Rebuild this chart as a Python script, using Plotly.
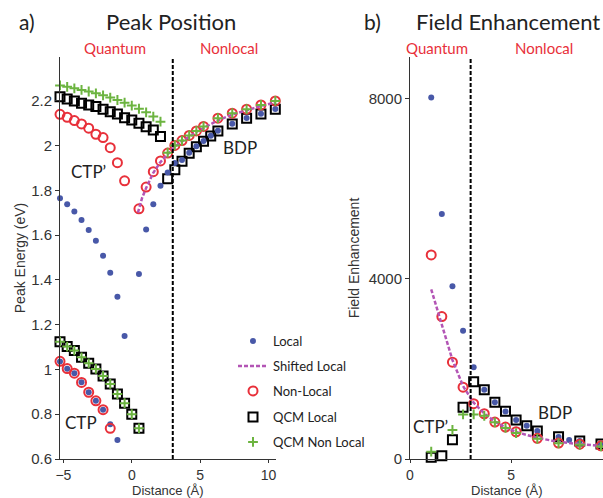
import plotly.graph_objects as go

# ---------------- data: panel a) Peak Position (eV) ----------------
local_ctpp_x = [-5.25, -4.725, -4.2, -3.675, -3.15, -2.625, -2.1, -1.575, -1.05, -0.525]
local_ctpp_y = [1.764, 1.738, 1.705, 1.667, 1.623, 1.575, 1.507, 1.432, 1.325, 1.149]
local_ctp_x = [-5.25, -4.725, -4.2, -3.675, -3.15, -2.625, -2.1, -1.575, -1.05]
local_ctp_y = [1.035, 1.003, 0.983, 0.943, 0.898, 0.860, 0.820, 0.755, 0.685]
local_bdp_x = [0.525, 1.05, 1.575, 2.1, 2.625, 3.15, 3.675, 4.2, 4.725, 5.25, 5.775, 6.3, 7.35, 8.4, 9.45, 10.5]
local_bdp_y = [1.426, 1.625, 1.738, 1.820, 1.879, 1.922, 1.935, 1.968, 1.996, 2.020, 2.043, 2.066, 2.097, 2.123, 2.142, 2.163]

shifted_a_x = [0.45, 0.75, 1.05, 1.575, 2.1, 2.625, 3.15, 3.675, 4.2, 4.725, 5.25, 6.3, 7.35, 8.4, 9.45, 10.5]
shifted_a_y = [1.700, 1.765, 1.810, 1.878, 1.926, 1.962, 1.995, 2.018, 2.040, 2.060, 2.078, 2.112, 2.138, 2.158, 2.176, 2.192]

nonlocal_ctpp_x = [-5.25, -4.725, -4.2, -3.675, -3.15, -2.625, -2.1, -1.575, -1.05, -0.525]
nonlocal_ctpp_y = [2.139, 2.126, 2.111, 2.096, 2.077, 2.050, 2.035, 1.990, 1.923, 1.842]
nonlocal_ctp_x = [-5.25, -4.725, -4.2, -3.675, -3.15, -2.625, -2.1, -1.575]
nonlocal_ctp_y = [1.036, 1.004, 0.983, 0.942, 0.898, 0.860, 0.820, 0.737]
nonlocal_bdp_x = [0.525, 1.05, 1.575, 2.1, 2.625, 3.15, 3.675, 4.2, 4.725, 5.25, 6.3, 7.35, 8.4, 9.45, 10.5]
nonlocal_bdp_y = [1.717, 1.814, 1.883, 1.931, 1.966, 2.000, 2.022, 2.045, 2.065, 2.085, 2.122, 2.144, 2.162, 2.181, 2.199]

qcm_ctpp_x = [-5.25, -4.725, -4.2, -3.675, -3.15, -2.625, -2.1, -1.575, -1.05, -0.525, 0.0, 0.525, 1.05, 1.575, 2.1]
qcm_ctpp_y = [2.218, 2.208, 2.199, 2.189, 2.181, 2.174, 2.162, 2.151, 2.140, 2.124, 2.114, 2.099, 2.084, 2.069, 2.040]
qcm_ctp_x = [-5.25, -4.725, -4.2, -3.675, -3.15, -2.625, -2.1, -1.575, -1.05, -0.525, 0.0, 0.525]
qcm_ctp_y = [1.124, 1.102, 1.084, 1.054, 1.027, 1.002, 0.971, 0.935, 0.890, 0.849, 0.800, 0.737]
qcm_bdp_x = [2.625, 3.15, 3.675, 4.2, 4.725, 5.25, 5.775, 6.3, 7.35, 8.4, 9.45, 10.5]
qcm_bdp_y = [1.851, 1.891, 1.930, 1.965, 1.994, 2.019, 2.042, 2.065, 2.096, 2.122, 2.141, 2.162]

qcmnl_ctpp_x = [-5.25, -4.725, -4.2, -3.675, -3.15, -2.625, -2.1, -1.575, -1.05, -0.525, 0.0, 0.525, 1.05, 1.575, 2.1]
qcmnl_ctpp_y = [2.268, 2.262, 2.255, 2.248, 2.241, 2.233, 2.224, 2.214, 2.203, 2.191, 2.178, 2.164, 2.148, 2.129, 2.106]
qcmnl_ctp_x = [-5.25, -4.725, -4.2, -3.675, -3.15, -2.625, -2.1, -1.575, -1.05, -0.525, 0.0, 0.525]
qcmnl_ctp_y = [1.124, 1.102, 1.084, 1.054, 1.027, 1.002, 0.971, 0.935, 0.890, 0.849, 0.800, 0.737]
qcmnl_bdp_x = [2.625, 3.15, 3.675, 4.2, 4.725, 5.25, 6.3, 7.35, 8.4, 9.45, 10.5]
qcmnl_bdp_y = [1.968, 2.000, 2.022, 2.045, 2.065, 2.085, 2.122, 2.144, 2.162, 2.181, 2.199]

# ---------------- data: panel b) Field Enhancement ----------------
fe_local_x = [1.05, 1.575, 2.1, 2.625, 3.15, 3.675, 4.2, 4.725, 5.25, 5.775, 6.3, 7.35, 7.875, 8.4, 9.45]
fe_local_y = [8030, 5440, 3840, 2850, 2040, 1540, 1260, 1055, 865, 740, 620, 490, 420, 400, 330]
fe_shifted_x = [1.05, 1.575, 2.1, 2.625, 3.15, 3.675, 4.2, 4.725, 5.25, 6.3, 7.35, 8.4, 9.45]
fe_shifted_y = [3770, 2960, 2200, 1620, 1250, 1010, 830, 700, 600, 470, 380, 330, 290]
fe_nonlocal_x = [1.05, 1.575, 2.1, 2.625, 3.15, 3.675, 4.2, 4.725, 5.25, 6.3, 7.35, 8.4, 9.45]
fe_nonlocal_y = [4533, 3163, 2150, 1595, 1230, 1005, 820, 710, 605, 459, 355, 328, 292]
fe_qcm_x = [1.05, 1.575, 2.1, 2.625, 3.15, 3.675, 4.2, 4.725, 5.25, 5.775, 6.3, 7.35, 8.4, 9.45]
fe_qcm_y = [37, 70, 430, 1150, 1715, 1540, 1263, 1060, 867, 741, 622, 496, 400, 333]
fe_qcmnl_x = [1.05, 2.1, 2.625, 3.15, 3.675, 4.2, 4.725, 5.25, 6.3, 7.35, 8.4, 9.45]
fe_qcmnl_y = [163, 644, 990, 990, 960, 815, 690, 575, 450, 350, 315, 280]

boundary_distance = 3.0

a_xticks = [-5, 0, 5, 10]
a_yticks = [0.6, 0.8, 1.0, 1.2, 1.4, 1.6, 1.8, 2.0, 2.2]
a_yticktext = ["0.6", "0.8", "1", "1.2", "1.4", "1.6", "1.8", "2", "2.2"]
b_xticks = [0, 5]
b_yticks = [0, 4000, 8000]

series_names = ["Local", "Shifted Local", "Non-Local", "QCM Local", "QCM Non Local"]

# ---------------- styles ----------------
W, H = 603, 498
BLUE = "#4858a8"
RED = "#e8303a"
MAG = "#b355b5"
GREEN = "#6cb440"
TXT = "#222222"
AX = "#333333"
YTICKFONT = dict(family="Liberation Sans, Arial, sans-serif", size=15, color=AX)
XTICKFONT = dict(family="Liberation Sans, Arial, sans-serif", size=14, color=AX)
TITLEFONT = dict(family="Liberation Sans, Arial, sans-serif", size=14, color=AX)
XTITLEFONT = dict(family="Liberation Sans, Arial, sans-serif", size=13, color=AX)


def px_x(p):
    return p / W


def px_y(p):
    return 1 - p / H


local_m = dict(symbol="circle", size=6, color=BLUE, line=dict(width=0))
nl_m = dict(symbol="circle-open", size=9, color=RED, line=dict(width=2, color=RED))
qcm_m = dict(symbol="square-open", size=9, color="black", line=dict(width=2, color="black"))
qnl_m = dict(symbol="cross-thin", size=7, color=GREEN, line=dict(width=2, color=GREEN))
shift_l = dict(color=MAG, width=2.5, dash="4px,2px")

fig = go.Figure()


def join(*pairs):
    xs, ys = [], []
    for x, y in pairs:
        xs += list(x) + [None]
        ys += list(y) + [None]
    return xs[:-1], ys[:-1]


legend_ids = ["legend", "legend2", "legend3", "legend4", "legend5"]

# panel a
qx, qy = join((qcm_ctpp_x, qcm_ctpp_y), (qcm_ctp_x, qcm_ctp_y), (qcm_bdp_x, qcm_bdp_y))
fig.add_trace(go.Scatter(x=qx, y=qy, mode="markers", marker=qcm_m, name=series_names[3],
                         legend=legend_ids[3], showlegend=True, cliponaxis=False, xaxis="x", yaxis="y"))
lx, ly = join((local_ctpp_x, local_ctpp_y), (local_ctp_x, local_ctp_y), (local_bdp_x, local_bdp_y))
fig.add_trace(go.Scatter(x=lx, y=ly, mode="markers", marker=local_m, name=series_names[0],
                         legend=legend_ids[0], showlegend=True, cliponaxis=False, xaxis="x", yaxis="y"))
nx, ny = join((nonlocal_ctpp_x, nonlocal_ctpp_y), (nonlocal_ctp_x, nonlocal_ctp_y), (nonlocal_bdp_x, nonlocal_bdp_y))
fig.add_trace(go.Scatter(x=nx, y=ny, mode="markers", marker=nl_m, name=series_names[2],
                         legend=legend_ids[2], showlegend=True, cliponaxis=False, xaxis="x", yaxis="y"))
fig.add_trace(go.Scatter(x=shifted_a_x, y=shifted_a_y, mode="lines", line=shift_l, name=series_names[1],
                         legend=legend_ids[1], showlegend=True, cliponaxis=False, xaxis="x", yaxis="y"))
gx, gy = join((qcmnl_ctpp_x, qcmnl_ctpp_y), (qcmnl_ctp_x, qcmnl_ctp_y), (qcmnl_bdp_x, qcmnl_bdp_y))
fig.add_trace(go.Scatter(x=gx, y=gy, mode="markers", marker=qnl_m, name=series_names[4],
                         legend=legend_ids[4], showlegend=True, cliponaxis=False, xaxis="x", yaxis="y"))

# panel b
fig.add_trace(go.Scatter(x=fe_qcm_x, y=fe_qcm_y, mode="markers", marker=qcm_m, showlegend=False,
                         cliponaxis=False, xaxis="x2", yaxis="y2"))
fig.add_trace(go.Scatter(x=fe_local_x, y=fe_local_y, mode="markers", marker=local_m, showlegend=False,
                         cliponaxis=False, xaxis="x2", yaxis="y2"))
fig.add_trace(go.Scatter(x=fe_nonlocal_x, y=fe_nonlocal_y, mode="markers", marker=nl_m, showlegend=False,
                         cliponaxis=False, xaxis="x2", yaxis="y2"))
fig.add_trace(go.Scatter(x=fe_shifted_x, y=fe_shifted_y, mode="lines", line=shift_l, showlegend=False,
                         cliponaxis=False, xaxis="x2", yaxis="y2"))
fig.add_trace(go.Scatter(x=fe_qcmnl_x, y=fe_qcmnl_y, mode="markers", marker=qnl_m, showlegend=False,
                         cliponaxis=False, xaxis="x2", yaxis="y2"))

ydom = [px_y(459), px_y(57)]
axis_common = dict(showgrid=False, zeroline=False, showline=True, linecolor=AX, linewidth=1,
                   ticks="outside", tickcolor=AX, tickwidth=1, automargin=False)

fig.update_layout(
    width=W, height=H,
    margin=dict(l=0, r=0, t=0, b=0),
    paper_bgcolor="white", plot_bgcolor="white",
    xaxis=dict(domain=[px_x(60), px_x(276)], range=[-5.25, 10.55], tickvals=a_xticks,
               ticklen=3, tickfont=XTICKFONT, anchor="y", **axis_common),
    yaxis=dict(domain=ydom, range=[0.6, 2.395], tickvals=a_yticks, ticktext=a_yticktext,
               ticklen=4, tickfont=YTICKFONT,
               title=dict(text="Peak Energy (eV)", font=TITLEFONT, standoff=2),
               anchor="x", **axis_common),
    xaxis2=dict(domain=[px_x(410), 1.0], range=[0, 9.55], tickvals=b_xticks,
                ticklen=3, tickfont=XTICKFONT, anchor="y2", **axis_common),
    yaxis2=dict(domain=ydom, range=[0, 8930], tickvals=b_yticks,
                ticklen=4, tickfont=YTICKFONT,
                title=dict(text="Field Enhancement", font=TITLEFONT, standoff=5),
                anchor="x2", **axis_common),
)

# dashed boundary lines (quantum / nonlocal)
for xr, yr in (("x", "y domain"), ("x2", "y2 domain")):
    fig.add_shape(type="line", xref=xr, yref=yr, x0=boundary_distance, x1=boundary_distance, y0=0, y1=1,
                  line=dict(color="black", width=2, dash="4px,2px"))

# x-axis titles, centred under each x axis
for xr in ("x domain", "x2 domain"):
    fig.add_annotation(text="Distance (Å)", xref=xr, x=0.5, yref="paper", y=0,
                       xanchor="center", yanchor="bottom", showarrow=False, font=XTITLEFONT,
                       borderpad=0, borderwidth=0)

# legends
legend_rows = [341, 366, 391, 417, 442]
for lid, row in zip(legend_ids, legend_rows):
    fig.update_layout({lid: dict(x=px_x(233), y=px_y(row), xanchor="left", yanchor="middle",
                                 bgcolor="rgba(0,0,0,0)", borderwidth=0,
                                 font=dict(family="Lato, Open Sans, sans-serif", size=13, color=TXT),
                                 itemwidth=30)})


def note(text, x, y, size, color=TXT, family="Lato, Open Sans, sans-serif"):
    fig.add_annotation(text=text, x=px_x(x), y=px_y(y), xref="paper", yref="paper",
                       xanchor="center", yanchor="middle", showarrow=False,
                       font=dict(family=family, size=size, color=color))


note("a)", 27, 22, 21)
note("Peak Position", 171, 22, 22)
note("Quantum", 115, 48, 15, RED)
note("Nonlocal", 229, 48, 15, RED)
note("b)", 372, 22, 21)
note("Field Enhancement", 508, 22, 22)
note("Quantum", 437, 48, 15, RED)
note("Nonlocal", 544, 48, 15, RED)
note("CTP’", 88, 171, 17)
note("BDP", 240, 147, 17)
note("CTP", 81, 422, 17)
note("CTP’", 430, 426, 17)
note("BDP", 555, 412, 17)

fig.write_html("out.html", config={"displayModeBar": False},
               post_script="document.body.style.margin='0px';document.body.style.overflow='hidden';")
